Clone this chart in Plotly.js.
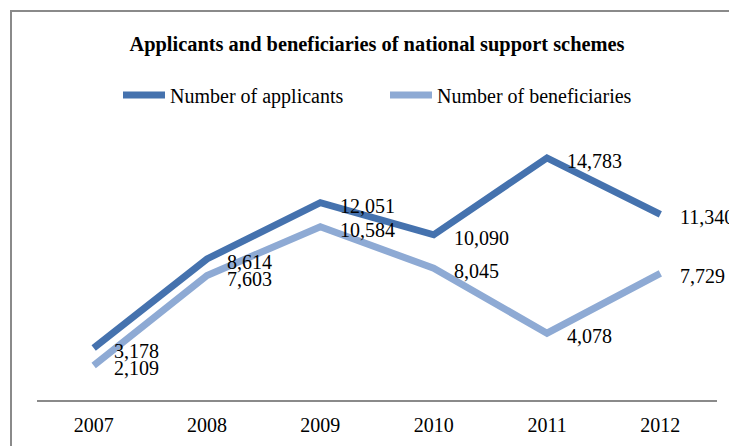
<!DOCTYPE html>
<html><head><meta charset="utf-8">
<script src="https://cdn.plot.ly/plotly-3.0.1.min.js"></script>
<style>html,body{margin:0;padding:0;background:#fff;overflow:hidden}#chart{width:729px;height:446px}</style>
</head><body><div id="chart"></div>
<script>
const years = ['2007', '2008', '2009', '2010', '2011', '2012'];
const applicants = [3178, 8614, 12051, 10090, 14783, 11340];
const beneficiaries = [2109, 7603, 10584, 8045, 4078, 7729];
const seriesNames = ['Number of applicants', 'Number of beneficiaries'];
const chartTitle = 'Applicants and beneficiaries of national support schemes';

const serif = '"Liberation Serif", "Times New Roman", serif';
const colors = ['#4572ae', '#8eaad4'];
const seriesData = [applicants, beneficiaries];

const traces = seriesData.map((vals, k) => ({
  type: 'scatter', mode: 'lines', x: years, y: vals, name: seriesNames[k],
  line: {color: colors[k], width: 7}, hoverinfo: 'skip'
}));

const annotations = [];
seriesData.forEach((vals, k) => {
  vals.forEach((v, i) => {
    annotations.push({
      x: i, y: v, xref: 'x', yref: 'y', text: v.toLocaleString('en-US'),
      showarrow: false, xanchor: 'left', yanchor: 'middle', xshift: 18, yshift: -3,
      font: {family: serif, size: 20, color: '#000'}
    });
  });
});

const layout = {
  width: 729, height: 446,
  margin: {l: 37, r: 12, t: 138, b: 46, pad: 0},
  paper_bgcolor: '#fff', plot_bgcolor: 'rgba(0,0,0,0)',
  font: {family: serif, color: '#000'},
  title: {text: '<b>' + chartTitle + '</b>', font: {family: serif, size: 20.4, color: '#000'},
          xref: 'container', yref: 'container', x: 377/729, xanchor: 'center', y: 1 - 44/446, yanchor: 'middle'},
  showlegend: true,
  legend: {orientation: 'h', xref: 'container', yref: 'container', x: 118/729, xanchor: 'left',
           y: 1 - 95/446, yanchor: 'middle', itemwidth: 42, entrywidth: 210,
           font: {family: serif, size: 20, color: '#000'}, bgcolor: 'rgba(0,0,0,0)'},
  xaxis: {type: 'category', range: [-0.5, 5.5], showline: true, linecolor: '#8a8a8a', linewidth: 2,
          showgrid: false, zeroline: false, ticks: '', ticklabelstandoff: 6,
          tickfont: {family: serif, size: 20, color: '#000'}, fixedrange: true},
  yaxis: {range: [0, 16000], visible: false, showgrid: false, zeroline: false, fixedrange: true},
  annotations: annotations,
  shapes: [{type: 'rect', xref: 'paper', yref: 'paper', x0: (11 - 37) / 680, x1: 1.2,
            y0: -0.5, y1: (400 - 11) / 262, line: {color: '#8a8a8a', width: 2}, fillcolor: 'rgba(0,0,0,0)', layer: 'below'}]
};

Plotly.newPlot('chart', traces, layout, {displayModeBar: false, staticPlot: true});
</script>
</body></html>
